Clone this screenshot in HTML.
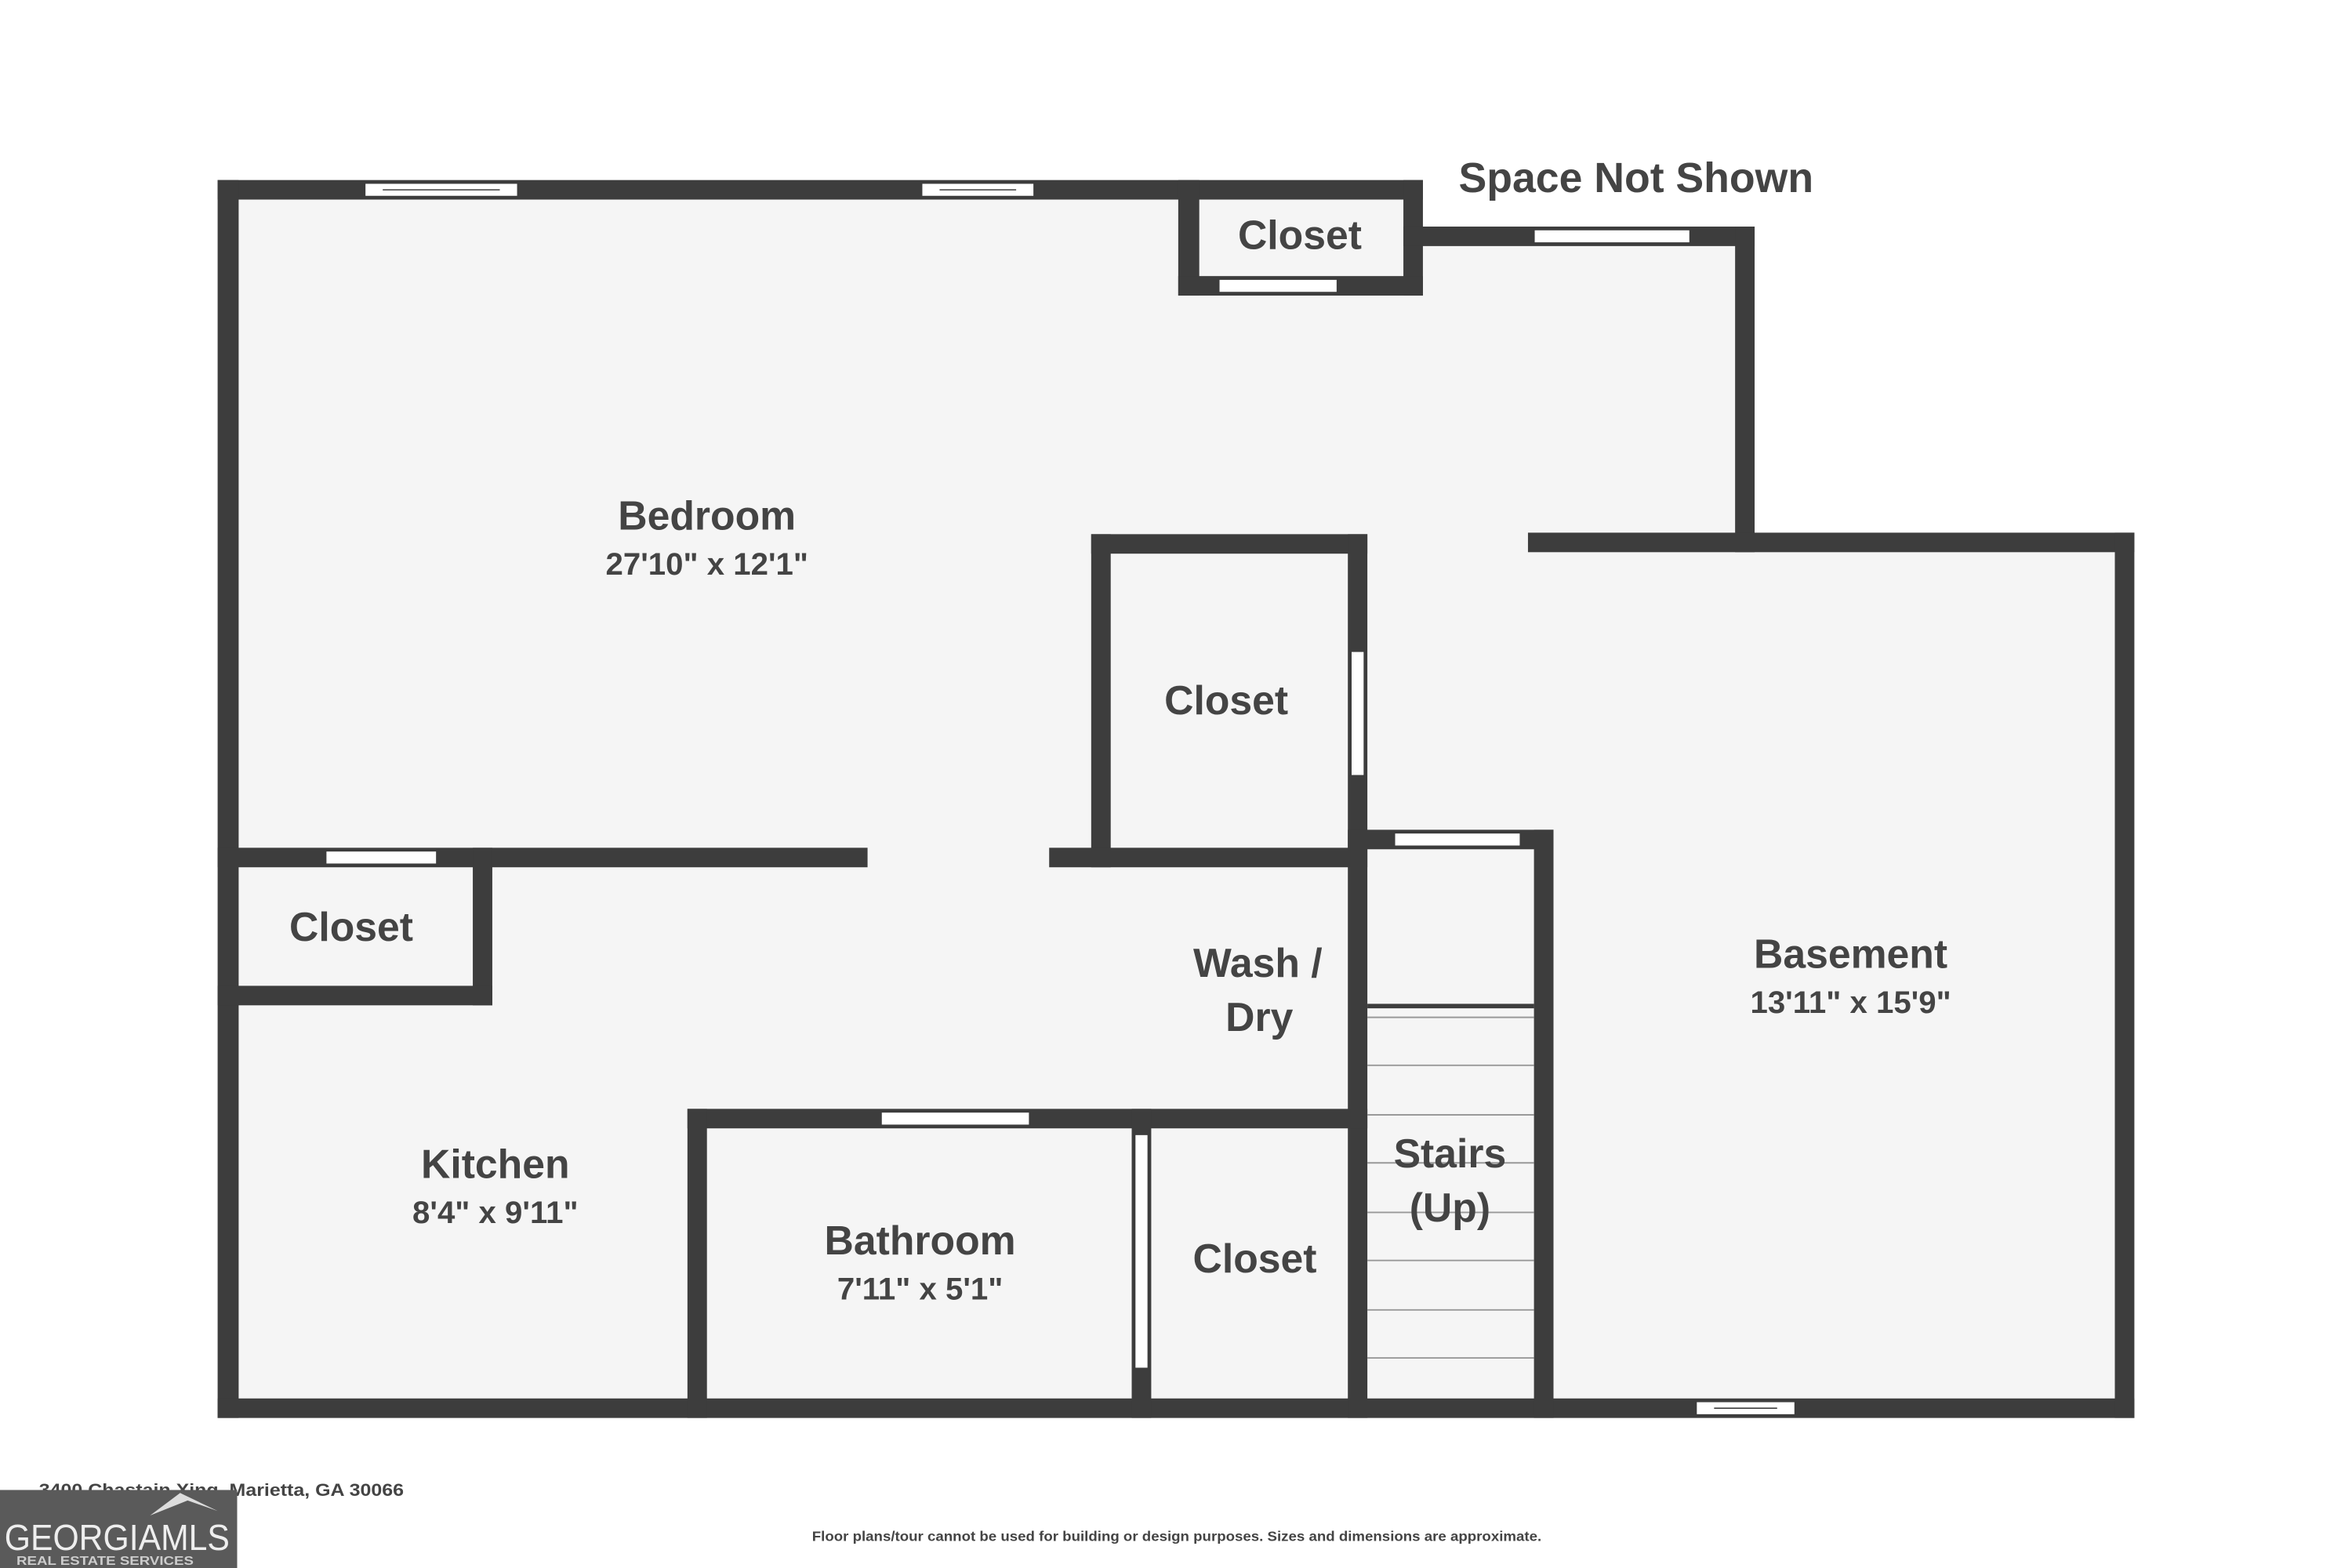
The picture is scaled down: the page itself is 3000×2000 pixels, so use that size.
<!DOCTYPE html>
<html><head><meta charset="utf-8"><style>
html,body{margin:0;padding:0;background:#fff;width:3000px;height:2000px;overflow:hidden}
svg{display:block}
text{font-family:"Liberation Sans",sans-serif;font-weight:bold;fill:#444;text-anchor:middle}
</style></head><body>
<svg width="3000" height="2000" viewBox="0 0 1567 1045" preserveAspectRatio="none">
<rect width="1567" height="1045" fill="#fff"/>
<polygon points="145,120 948,120 948,151 1169,151 1169,355 1422,355 1422,945 145,945" fill="#f5f5f5"/>
<g fill="#3d3d3d">
<rect x="145" y="120" width="803" height="13"/>
<rect x="145" y="120" width="14" height="825"/>
<rect x="145" y="932" width="1277" height="13"/>
<rect x="785" y="120" width="14" height="77"/>
<rect x="935" y="120" width="13" height="77"/>
<rect x="785" y="184" width="163" height="13"/>
<rect x="935" y="151" width="234" height="13"/>
<rect x="1156" y="151" width="13" height="217"/>
<rect x="1018" y="355" width="404" height="13"/>
<rect x="1409" y="355" width="13" height="590"/>
<rect x="727" y="356" width="13" height="222"/>
<rect x="727" y="356" width="184" height="13"/>
<rect x="898" y="356" width="13" height="589"/>
<rect x="699" y="565" width="212" height="13"/>
<rect x="145" y="565" width="433" height="13"/>
<rect x="315" y="565" width="13" height="105"/>
<rect x="145" y="657" width="183" height="13"/>
<rect x="1022" y="553" width="13" height="392"/>
<rect x="898" y="553" width="137" height="13"/>
<rect x="458" y="739" width="453" height="13"/>
<rect x="458" y="739" width="13" height="206"/>
<rect x="754" y="739" width="13" height="206"/>
</g>
<g fill="#fff" stroke="#3d3d3d" stroke-width="1">
<rect x="243" y="122" width="102" height="9"/>
<rect x="614" y="122" width="75" height="9"/>
<rect x="812" y="186" width="79" height="9"/>
<rect x="1022" y="153" width="104" height="9"/>
<rect x="1130" y="934" width="66" height="9"/>
<rect x="217" y="567" width="74" height="9"/>
<rect x="929" y="555" width="84" height="9"/>
<rect x="587" y="741" width="99" height="9"/>
<rect x="900" y="434" width="9" height="83"/>
<rect x="756" y="756" width="9" height="156"/>
</g>
<g stroke="#3d3d3d" stroke-width="0.8">
<line x1="255" y1="126.5" x2="333" y2="126.5"/>
<line x1="626" y1="126.5" x2="677" y2="126.5"/>
<line x1="1142" y1="938.5" x2="1184" y2="938.5"/>
</g>
<rect x="911" y="669" width="111" height="3" fill="#3d3d3d"/>
<g stroke="#999" stroke-width="1">
<line x1="911" y1="678" x2="1022" y2="678"/>
<line x1="911" y1="710" x2="1022" y2="710"/>
<line x1="911" y1="743" x2="1022" y2="743"/>
<line x1="911" y1="775" x2="1022" y2="775"/>
<line x1="911" y1="808" x2="1022" y2="808"/>
<line x1="911" y1="840" x2="1022" y2="840"/>
<line x1="911" y1="873" x2="1022" y2="873"/>
<line x1="911" y1="905" x2="1022" y2="905"/>
</g>
<text x="1090" y="128" font-size="28">Space Not Shown</text>
<text x="866" y="166" font-size="27">Closet</text>
<text x="471" y="353" font-size="27">Bedroom</text>
<text x="471" y="383" font-size="21">27'10" x 12'1"</text>
<text x="817" y="476" font-size="27">Closet</text>
<text x="234" y="627" font-size="27">Closet</text>
<text x="838" y="651" font-size="27">Wash /</text>
<text x="839" y="687" font-size="27">Dry</text>
<text x="1233" y="645" font-size="27">Basement</text>
<text x="1233" y="675" font-size="21">13'11" x 15'9"</text>
<text x="330" y="785" font-size="27">Kitchen</text>
<text x="330" y="815" font-size="21">8'4" x 9'11"</text>
<text x="966" y="778" font-size="27">Stairs</text>
<text x="966" y="814" font-size="27">(Up)</text>
<text x="613" y="836" font-size="27">Bathroom</text>
<text x="613" y="866" font-size="21">7'11" x 5'1"</text>
<text x="836" y="848" font-size="27">Closet</text>
<text x="26" y="997" font-size="11.5" style="text-anchor:start" textLength="243" lengthAdjust="spacingAndGlyphs">3400 Chastain Xing, Marietta, GA 30066</text>
<text x="541" y="1027" font-size="9" style="text-anchor:start" textLength="486" lengthAdjust="spacingAndGlyphs">Floor plans/tour cannot be used for building or design purposes. Sizes and dimensions are approximate.</text>
<rect x="0" y="993" width="158" height="52" fill="#5a5a5a"/>
<polygon points="100,1010 120,995 145,1007 125,1000" fill="#ddd"/>
<text x="78" y="1033" font-size="24" style="font-weight:normal;fill:#eee" textLength="150" lengthAdjust="spacingAndGlyphs">GEORGIAMLS</text>
<text x="70" y="1043" font-size="8" style="fill:#ccc" textLength="118" lengthAdjust="spacingAndGlyphs">REAL ESTATE SERVICES</text>
</svg>
</body></html>
